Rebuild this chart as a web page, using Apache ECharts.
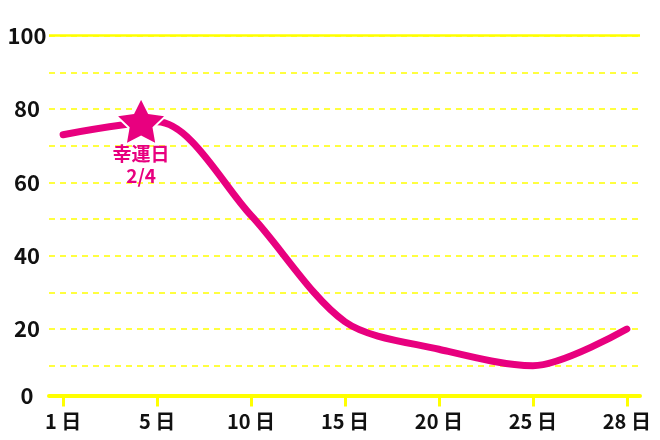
<!DOCTYPE html>
<html>
<head>
<meta charset="utf-8">
<script src="https://cdn.jsdelivr.net/npm/echarts@6/dist/echarts.min.js"></script>
<style>
html, body { margin: 0; padding: 0; background: #fff; }
#chart_1 { width: 660px; height: 440px; }
</style>
</head>
<body>
<div id="chart_1"></div>
<script>
// x軸ラベル（等間隔に並ぶ）
var dayLabels = ['1 日', '5 日', '10 日', '15 日', '20 日', '25 日', '28 日']
var dayPos = [0, 1, 2, 3, 4, 5, 6]
// 線の値
var lineValues = [73, 76.5, 51, 22, 14.5, 10, 20]
// 幸運日マーカー（2/4）
var luckyPos = [0.83]
var luckyValue = [76.7]
var luckyText = '幸運日\n2/4'
var yTicks = [0, 20, 40, 60, 80, 100]

var pink = '#e8007f'
var yellow = '#ffff00'
// 太めの星形
var starPath = 'path://M50,0 L64.69,29.77 L97.55,34.55 L73.78,57.73 L79.39,90.45 L50,75 L20.61,90.45 L26.22,57.73 L2.45,34.55 L35.31,29.77 Z'

var char1 = echarts.init(document.getElementById('chart_1'))

var lineData = []
for (var i = 0; i < dayPos.length; i++) {
    lineData.push([dayPos[i], lineValues[i]])
}
var starData = []
for (var j = 0; j < luckyPos.length; j++) {
    starData.push([luckyPos[j], luckyValue[j]])
}

var option1 = {
    animation: false,
    textStyle: {
        fontFamily: '"Noto Sans CJK JP", "Noto Sans", sans-serif'
    },
    grid: {
        left: 49,
        right: 20,
        top: 35.7,
        bottom: 37.6
    },
    xAxis: [
        {
            type: 'value',
            min: -0.15,
            max: 6.14,
            offset: -7,
            axisLine: {
                show: true,
                onZero: false,
                lineStyle: { color: yellow, width: 4 }
            },
            axisTick: {
                show: true,
                customValues: dayPos,
                length: 11,
                lineStyle: { color: yellow, width: 3 }
            },
            axisLabel: {
                customValues: dayPos,
                margin: 16,
                fontSize: 20,
                fontWeight: 'bold',
                color: '#111',
                formatter: function (v) {
                    return dayLabels[Math.round(v)]
                }
            },
            splitLine: { show: false }
        },
        {
            type: 'value',
            min: -0.15,
            max: 6.14,
            offset: -7,
            axisLine: { show: false },
            axisTick: {
                show: true,
                inside: true,
                customValues: dayPos,
                length: 10,
                lineStyle: { color: yellow, width: 3 }
            },
            axisLabel: { show: false },
            splitLine: { show: false }
        }
    ],
    yAxis: {
        type: 'value',
        min: 0,
        max: 100,
        interval: 10,
        axisLine: { show: false },
        axisTick: { show: false },
        axisLabel: {
            align: 'center',
            margin: 22,
            fontSize: 22,
            fontWeight: 'bold',
            color: '#111',
            formatter: function (v) {
                if (yTicks.indexOf(v) < 0) return ''
                if (v === 0) return '{z|0}'
                return '{n|' + v + '}'
            },
            rich: {
                n: { fontSize: 22, fontWeight: 'bold', color: '#111' },
                z: { fontSize: 22, fontWeight: 'bold', color: '#111', padding: [0, 0, 13, 0] }
            }
        },
        splitLine: {
            show: true,
            showMinLine: false,
            lineStyle: { color: yellow, width: 1.5, type: [6, 5] }
        }
    },
    series: [
        {
            name: 'top',
            type: 'line',
            data: [],
            silent: true,
            markLine: {
                silent: true,
                symbol: 'none',
                label: { show: false },
                lineStyle: { color: yellow, width: 2.5, type: 'solid' },
                data: [{ yAxis: 100 }]
            }
        },
        {
            name: '値',
            type: 'line',
            data: lineData,
            smooth: 0.3,
            showSymbol: false,
            lineStyle: { color: pink, width: 7, cap: 'round', join: 'round' }
        },
        {
            name: '幸運日',
            type: 'scatter',
            data: starData,
            symbol: starPath,
            symbolSize: [50, 47],
            itemStyle: { color: pink, opacity: 1, borderColor: '#fff', borderWidth: 2 },
            label: {
                show: true,
                position: 'bottom',
                distance: -3,
                formatter: luckyText,
                color: pink,
                fontSize: 19,
                fontWeight: 'bold',
                lineHeight: 22
            },
            z: 5
        }
    ]
}
char1.setOption(option1)
</script>
</body>
</html>
